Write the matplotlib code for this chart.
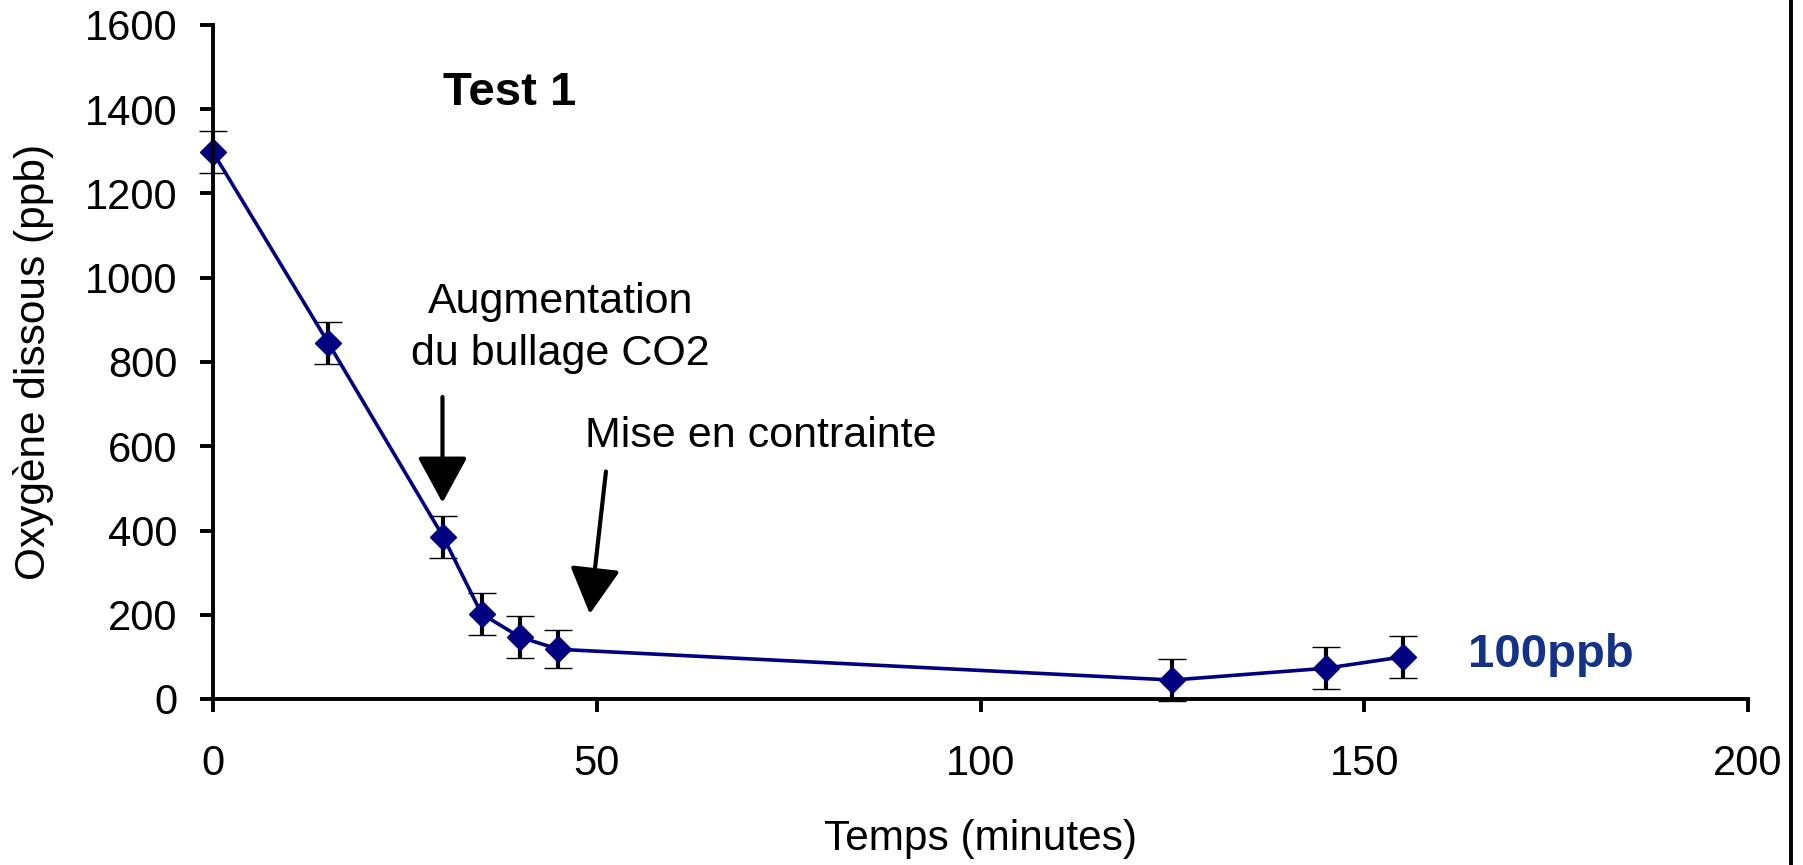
import matplotlib
matplotlib.use("Agg")
import matplotlib.pyplot as plt
from matplotlib.lines import Line2D

plt.rcParams['font.family'] = ['Liberation Sans', 'DejaVu Sans']

# data
temps = [0, 15, 30, 35, 40, 45, 125, 145, 155]
oxygene = [1298, 846, 385, 202, 147, 118, 45, 73, 100]
erreur = [50, 50, 50, 50, 50, 45, 50, 50, 50]

x_ticks = [0, 50, 100, 150, 200]
y_ticks = [0, 200, 400, 600, 800, 1000, 1200, 1400, 1600]

W, H = 1803, 865
fig = plt.figure(figsize=(W / 100, H / 100), dpi=100)
ax = fig.add_axes([213 / W, 166 / H, (1748 - 213) / W, (699 - 25) / H])

ax.errorbar(temps, oxygene, yerr=erreur, fmt='-D', color='#000080', lw=2.6,
            ms=13.5, mfc='#000080', mec='#000080', mew=1,
            ecolor='black', elinewidth=3, capsize=10, capthick=3,
            clip_on=False)

ax.set_xlim(0, 200)
ax.set_ylim(0, 1600)
ax.set_xticks(x_ticks)
ax.set_yticks(y_ticks)

for s in ['top', 'right']:
    ax.spines[s].set_visible(False)
for s in ['left', 'bottom']:
    ax.spines[s].set_linewidth(2.8)

ax.tick_params(axis='both', direction='out', length=9.5, width=2.8, labelsize=30)
ax.tick_params(axis='x', pad=23)
ax.tick_params(axis='y', pad=16)

ax.set_xlabel("Temps (minutes)", fontsize=30.5, labelpad=25)
ax.set_ylabel("Oxygène dissous (ppb)", fontsize=30.5, labelpad=22)

# annotations
ax.text(38.7, 1410, "Test 1", fontsize=34, fontweight='bold', ha='center', va='baseline')
ax.text(45.3, 880, "Augmentation\ndu bullage CO2", fontsize=31, ha='center', va='center',
        linespacing=1.38)
ax.text(71.4, 598, "Mise en contrainte", fontsize=31, ha='center', va='baseline')
ax.text(163.5, 77, "100ppb", fontsize=34, fontweight='bold', color='#143287',
        ha='left', va='baseline')

arrow = dict(arrowstyle='-|>,head_length=1.1,head_width=0.6', mutation_scale=26,
             color='black', lw=3, shrinkA=0, shrinkB=0)
ax.annotate('', xy=(29.9, 466), xytext=(29.9, 717), arrowprops=arrow)
ax.annotate('', xy=(49.1, 202), xytext=(51.2, 540), arrowprops=arrow)

# border line on the right edge of the picture
fig.add_artist(Line2D([0.9933, 0.9933], [0, 1], transform=fig.transFigure,
                      color='black', lw=2.8))

fig.savefig('out.png', dpi=100)
